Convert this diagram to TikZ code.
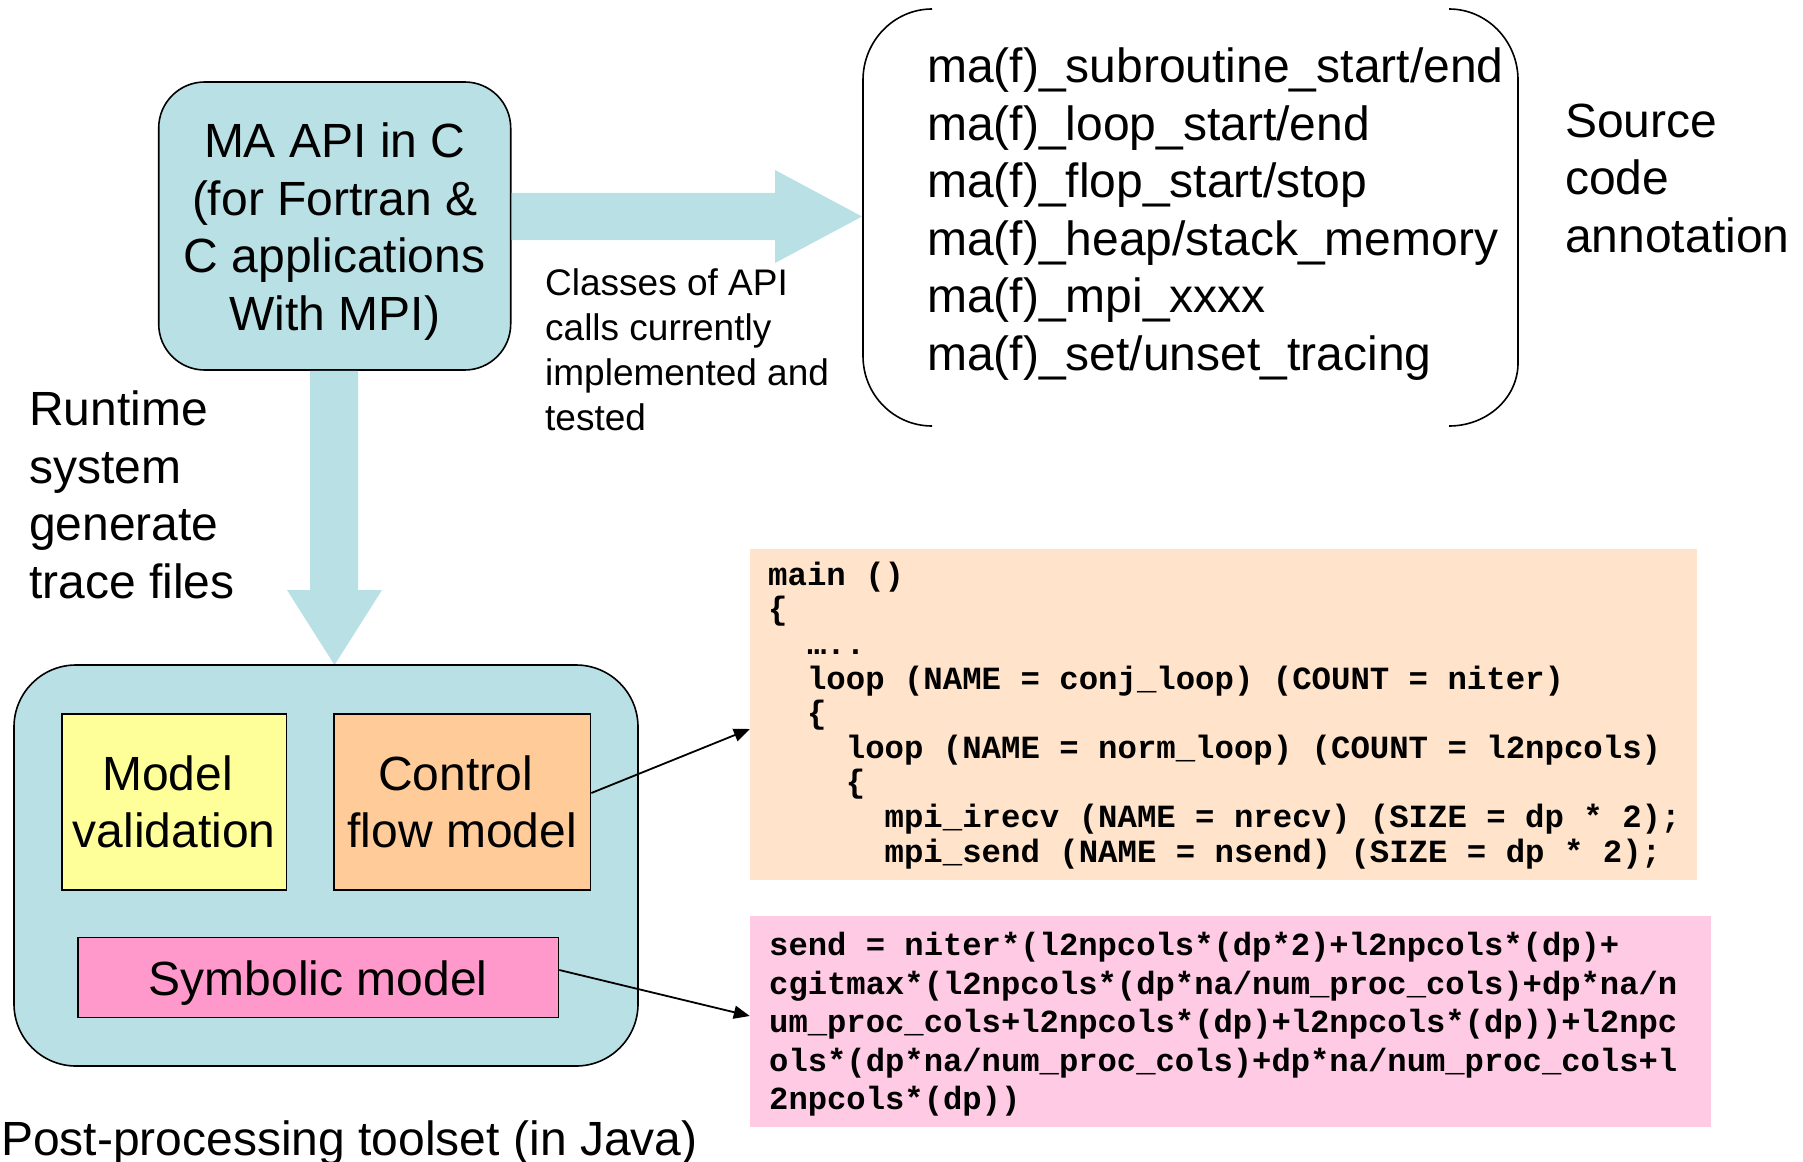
\documentclass[tikz,border=0pt]{standalone}
\usepackage{fontspec}
\setmainfont{Liberation Sans}
\newfontfamily\codefont{Liberation Mono}
\usetikzlibrary{arrows.meta}

\definecolor{apiteal}{HTML}{B9E0E4}
\definecolor{valyellow}{HTML}{FFFF99}
\definecolor{cforange}{HTML}{FFCC99}
\definecolor{sympink}{HTML}{FF99CC}
\definecolor{codepeach}{HTML}{FFE4CB}
\definecolor{codepink}{HTML}{FFCAE4}

\begin{document}
\begin{tikzpicture}[x=1pt,y=-1pt,
  big/.style={font=\fontsize{48}{57.5}\selectfont},
  mid/.style={font=\fontsize{37}{45}\selectfont},
  txt/.style={inner sep=0pt, anchor=north west, align=left},
  panel/.style={draw=black, line width=1.6pt, inner sep=0pt, align=center, big},
  label/.style={inner sep=0pt, align=center, big},
  codebg/.style={inner sep=0pt, draw=none},
  codetxt/.style={inner sep=0pt, anchor=north west, align=left},
  conn/.style={line width=1.8pt, -{Triangle[length=16pt,width=13pt]}},
  bracket/.style={line width=1.6pt}
]
\useasboundingbox (0,0) rectangle (1803,1161);

% API box and the post-processing frame
\node[panel, fill=apiteal, rounded corners=46pt, minimum width=352pt, minimum height=288pt]
  (api) at (334.7,226) {};
\node[label] (apitext) at (334.7,231.5) {MA API in C\\(for Fortran \&\\C applications\\With MPI)};

\coordinate (calltip) at (862,216.5);
\coordinate (posttop) at (334.5,665);

% broad arrows
\fill[apiteal] (api.east |- 0,193) -- (775,193) -- (775,170) -- (calltip)
  -- (775,263) -- (775,240) -- (api.east |- 0,240) -- cycle;
\fill[apiteal] (310,0 |- api.south) -- (310,590) -- (287,590) -- (posttop)
  -- (382,590) -- (358,590) -- (358,0 |- api.south) -- cycle;

\node[panel, fill=apiteal, rounded corners=62pt, minimum width=624pt, minimum height=401pt]
  (post) at (326,865.5) {};
\node[panel, fill=valyellow, minimum width=224.4pt, minimum height=176pt]
  (valid) at (174.2,802) {Model\hspace*{0.28em}\\validation};
\node[panel, fill=cforange, minimum width=256.7pt, minimum height=176pt]
  (cfm) at (462.2,802) {Control\hspace*{0.28em}\\flow model};
\node[panel, fill=sympink, minimum width=480.6pt, minimum height=80pt]
  (sym) at (318.2,977.5) {};
\node[label] (symtext) at (318.2,983) {Symbolic model};

% API call classes in a bracket
\node[txt, big] (calls) at (927,42.5) {\rule{0pt}{40pt}ma(f)\_subroutine\_start/end\\
ma(f)\_loop\_start/end\\
ma(f)\_flop\_start/stop\\
ma(f)\_heap/stack\_memory\\
ma(f)\_mpi\_xxxx\\
ma(f)\_set/unset\_tracing};
\draw[bracket] (932,9) .. controls (894,9) and (863,41) .. (863,80) -- (863,356)
  .. controls (863,395) and (894,426) .. (932,426);
\draw[bracket] (1449,9) .. controls (1487,9) and (1518,41) .. (1518,80) -- (1518,363)
  .. controls (1518,398) and (1487,426) .. (1449,426);

\node[txt, big] (srcnote) at (1565,97) {\rule{0pt}{40pt}Source\\code\\annotation};
\node[txt, mid] (classes) at (545,264) {\rule{0pt}{31pt}Classes of API\\calls currently\\implemented and\\tested};
\node[txt, big] (runtime) at (29,385.5) {\rule{0pt}{40pt}Runtime\\system\\generate\\trace files};
\node[txt, big] (postlbl) at (1,1115.5) {\rule{0pt}{40pt}Post-processing toolset (in Java)};

% control flow listing
\node[codebg, fill=codepeach, minimum width=947pt, minimum height=331pt]
  (cfcode) at (1223.5,714.5) {};
\node[codetxt, font=\codefont\bfseries\fontsize{32.35}{34.6}\selectfont] (cflist) at (768,559)
{\rule{0pt}{26pt}main ()\\
\{\\
\hspace*{1.2em}…..\\
\hspace*{1.2em}loop (NAME = conj\_loop) (COUNT = niter)\\
\hspace*{1.2em}\{\\
\hspace*{2.4em}loop (NAME = norm\_loop) (COUNT = l2npcols)\\
\hspace*{2.4em}\{\\
\hspace*{3.6em}mpi\_irecv (NAME = nrecv) (SIZE = dp * 2);\\
\hspace*{3.6em}mpi\_send (NAME = nsend) (SIZE = dp * 2);};

% symbolic expression
\node[codebg, fill=codepink, minimum width=961pt, minimum height=211pt]
  (symcode) at (1230.5,1021.5) {};
\node[codetxt, font=\codefont\bfseries\fontsize{32.2}{38.5}\selectfont] (symexpr) at (769,929.5)
{\rule{0pt}{26pt}send = niter*(l2npcols*(dp*2)+l2npcols*(dp)+\\
cgitmax*(l2npcols*(dp*na/num\_proc\_cols)+dp*na/n\\
um\_proc\_cols+l2npcols*(dp)+l2npcols*(dp))+l2npc\\
ols*(dp*na/num\_proc\_cols)+dp*na/num\_proc\_cols+l\\
2npcols*(dp))};

% connectors
\draw[conn] ([yshift=9pt]cfm.east) -- ([yshift=-14.5pt]cfcode.west);
\draw[conn] ([yshift=7.5pt]sym.east) -- ([yshift=5.5pt]symcode.west);
\end{tikzpicture}
\end{document}
